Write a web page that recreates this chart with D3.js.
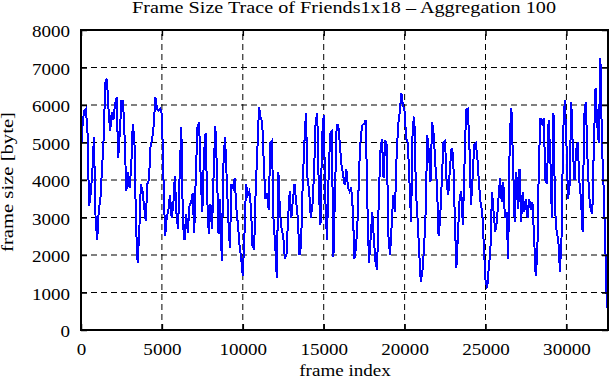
<!DOCTYPE html>
<html><head><meta charset="utf-8">
<script src="https://cdn.jsdelivr.net/npm/d3@7"></script>
<style>
html,body{margin:0;padding:0;background:#fff;}
text{font-family:"Liberation Serif","Times New Roman",serif;fill:#000;}
</style></head>
<body>
<svg id="chart" width="611" height="380"></svg>
<script>
const title = "Frame Size Trace of Friends1x18 \u2013 Aggregation 100";
const xLabel = "frame index";
const yLabel = "frame size [byte]";
const frameStep = 100;
const xTicks = [0, 5000, 10000, 15000, 20000, 25000, 30000];
const yTicks = [0, 1000, 2000, 3000, 4000, 5000, 6000, 7000, 8000];
const xMax = 32570;
const yMax = 8000;
// aggregated frame size (bytes), one value per 100 frames
const frameSize = [
4750,5500,5850,5900,5300,3300,3650,4200,5150,3000,
2400,3200,3500,4300,5100,6600,6700,5900,5300,5800,
5600,6000,6200,4600,5300,6100,6100,5100,3700,4200,
3800,4300,5500,5100,2800,1800,2600,3900,3700,3300,
2900,3900,4000,4900,5100,5500,6200,5900,5850,5900,
5750,4000,2500,3000,3200,3600,3000,3300,4100,3100,
2700,4200,5400,2800,2400,3100,2600,3300,3400,3650,
2600,4200,5400,5550,4000,3150,4700,5250,3500,2550,
3350,2700,4200,5450,4300,2550,3500,1850,4400,5150,
4100,3000,2200,3900,3800,4050,3250,2800,2250,1900,
1450,2500,3900,3600,3700,3300,2250,2150,3800,4800,
5950,5650,5550,4400,3500,3650,3200,5000,5050,2900,
2300,1400,4200,3100,2700,2500,1900,2000,3000,3700,
3000,3500,3900,3400,3000,2000,2250,3870,4930,5780,
4050,3700,3000,3300,4130,5550,5780,3700,2800,5150,
5730,3500,2400,4050,5240,5300,1950,3700,5470,5470,
4930,4400,4130,3870,4300,3800,3700,3800,3200,1900,
2200,3000,4400,5200,5470,5500,5600,3330,1780,2440,
3150,2440,1820,1600,3420,4750,5100,4050,5070,4930,
2500,2000,2800,3600,3150,4580,5470,5800,6310,6000,
5820,5100,5000,3950,2890,5470,5690,3690,2980,2090,
1290,1560,2170,3150,5200,4750,3950,5550,5200,4400,
3870,2500,3000,4000,5000,5050,3900,3600,4300,4840,
4670,3000,1650,2600,3500,3700,2800,4400,5870,5900,
5000,3330,4050,4930,4980,4580,3870,3370,3150,2200,
1330,1110,1650,2090,3690,3150,2620,2890,3500,4050,
3420,3950,2980,3150,1900,5200,5910,4500,2890,4220,
3240,4300,2890,3690,3150,3500,3000,3500,3200,3400,
2500,1450,2000,4500,5650,5500,5650,4000,3900,5600,
4700,3000,5780,3200,2600,2400,1560,2500,5300,6130,
5000,3500,3870,6090,4800,4000,4800,5000,3950,3500,
2620,5730,6090,4600,3600,3200,3100,5000,6450,5500,
5000,7250,4900,3800,2300,580
];

const svg = d3.select("#chart");
const m = {left: 81, right: 3, top: 30, bottom: 50};
const W = 611, H = 380;
const x = d3.scaleLinear().domain([0, xMax]).range([m.left, W - m.right]);
const y = d3.scaleLinear().domain([0, yMax]).range([H - m.bottom, m.top]);
const fs = 16;
const stretch = 1.19;

// grid
const grid = svg.append("g").attr("stroke", "#000").attr("stroke-width", 1).attr("stroke-dasharray", "6,4");
grid.selectAll("line.gy").data(yTicks.filter(v => v > 0 && v < yMax)).join("line")
  .attr("x1", x(0)).attr("x2", x(xMax)).attr("y1", d => y(d)).attr("y2", d => y(d));
grid.selectAll("line.gx").data(xTicks.filter(v => v > 0)).join("line")
  .attr("y1", y(0)).attr("y2", y(yMax)).attr("x1", d => x(d)).attr("x2", d => x(d));

// data line
const line = d3.line().x((d, i) => x(i * frameStep)).y(d => y(d));
svg.append("path").datum(frameSize).attr("d", line)
  .attr("fill", "none").attr("stroke", "#0000ff").attr("stroke-width", 2)
  .attr("stroke-linejoin", "miter").attr("shape-rendering", "crispEdges");

// axes (ticks inward, mirrored)
const tl = 6;
const axB = svg.append("g").attr("transform", `translate(0,${y(0)})`)
  .call(d3.axisBottom(x).tickValues(xTicks).tickSize(-tl).tickPadding(tl + 6).tickFormat(d3.format("d")));
const axT = svg.append("g").attr("transform", `translate(0,${y(yMax)})`)
  .call(d3.axisTop(x).tickValues(xTicks).tickSize(-tl).tickFormat(""));
const axL = svg.append("g").attr("transform", `translate(${x(0)},0)`)
  .call(d3.axisLeft(y).tickValues(yTicks).tickSize(-tl).tickPadding(tl + 5).tickFormat(d3.format("d")));
const axR = svg.append("g").attr("transform", `translate(${x(xMax)},0)`)
  .call(d3.axisRight(y).tickValues(yTicks).tickSize(-tl).tickFormat(""));
[axB, axT, axL, axR].forEach(a => {
  a.select(".domain").remove();
  a.selectAll("line").attr("stroke", "#000").attr("stroke-width", 1.5);
  a.selectAll("text").style("font-size", fs + "px").style("font-family", '"Liberation Serif",serif').attr("fill", "#000");
});
axL.selectAll("text").attr("dy", "0.42em");
axB.selectAll("text").attr("dy", "0.8em");
// border
svg.append("rect").attr("x", x(0)).attr("y", y(yMax)).attr("width", x(xMax) - x(0)).attr("height", y(0) - y(yMax))
  .attr("fill", "none").attr("stroke", "#000").attr("stroke-width", 2);

const tTitle = svg.append("text").attr("x", 344).attr("y", 13).attr("text-anchor", "middle").style("font-size", fs + "px").text(title);
svg.append("text").attr("x", 345).attr("y", 376).attr("text-anchor", "middle").style("font-size", fs + "px").text(xLabel);
const tY = svg.append("text").attr("transform", `translate(13,${(y(0) + y(yMax)) / 2 + 2}) rotate(-90)`)
  .attr("text-anchor", "middle").style("font-size", fs + "px").text(yLabel);

// widen glyphs to match the reference's broad serif lettering
svg.selectAll("text").each(function() {
  const len = this.getComputedTextLength();
  if (len > 0) d3.select(this).attr("textLength", len * stretch).attr("lengthAdjust", "spacingAndGlyphs");
});
tTitle.attr("textLength", 424);
tY.attr("textLength", 140);
</script>
</body></html>
